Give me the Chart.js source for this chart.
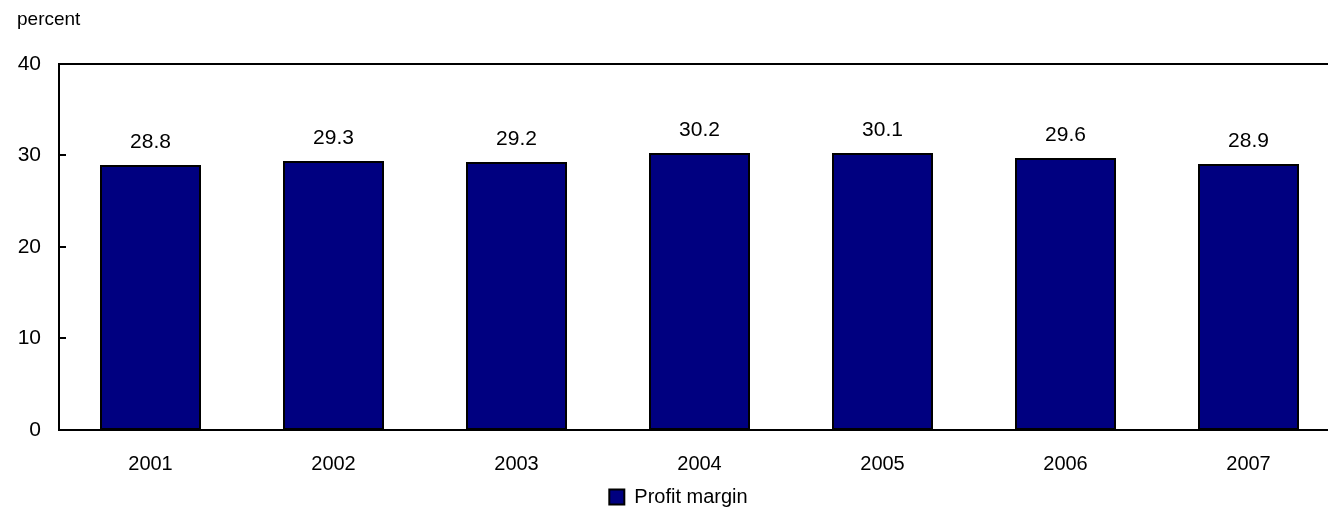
<!DOCTYPE html>
<html>
<head>
<meta charset="utf-8">
<script src="https://cdn.jsdelivr.net/npm/chart.js@4.4.1/dist/chart.umd.min.js"></script>
<style>
  html, body { margin: 0; padding: 0; background: #fff; overflow: hidden; }
  #wrap { width: 1340px; height: 512px; }
</style>
</head>
<body>
<div id="wrap"><canvas id="profitChart" width="1340" height="512"></canvas></div>
<script>
// datos del grafico
const years = ['2001', '2002', '2003', '2004', '2005', '2006', '2007'];
const profitMargin = [28.8, 29.3, 29.2, 30.2, 30.1, 29.6, 28.9];
const yTicks = [0, 10, 20, 30, 40];

const FONT = 'Liberation Sans, Arial, sans-serif';

// contorno de barras, etiquetas encima y marcas hacia dentro en el eje y
const extras = {
    id: 'extras',
    afterDatasetsDraw(chart) {
        const ctx = chart.ctx;
        const meta = chart.getDatasetMeta(0);
        ctx.save();
        ctx.strokeStyle = '#000';
        ctx.lineWidth = 2;
        meta.data.forEach(bar => {
            const l = Math.round(bar.x - bar.width / 2);
            const r = Math.round(bar.x + bar.width / 2);
            const t = Math.round(bar.y);
            const b = Math.round(bar.base);
            ctx.strokeRect(l, t, r - l, b - t);
        });
        ctx.fillStyle = '#000';
        ctx.font = '21px ' + FONT;
        ctx.textAlign = 'center';
        ctx.textBaseline = 'alphabetic';
        meta.data.forEach((bar, i) => {
            ctx.fillText(profitMargin[i].toFixed(1), bar.x, bar.y - 18);
        });
        const y = chart.scales.y;
        const left = chart.chartArea.left;
        yTicks.forEach(v => {
            const py = Math.round(y.getPixelForValue(v));
            ctx.beginPath();
            ctx.moveTo(left, py);
            ctx.lineTo(left + 7, py);
            ctx.stroke();
        });
        ctx.restore();
    }
};

document.addEventListener('DOMContentLoaded', () => {
    new Chart(document.getElementById('profitChart'), {
        type: 'bar',
        data: {
            labels: years,
            datasets: [{
                label: 'Profit margin',
                data: profitMargin,
                backgroundColor: '#000080',
                borderWidth: 0,
                categoryPercentage: 1,
                barPercentage: 0.545,
            }],
        },
        options: {
            responsive: false,
            animation: false,
            layout: {padding: {left: 17, right: 0, top: 0, bottom: 0}},
            scales: {
                x: {
                    afterFit: (scale) => { scale.height = 57; },
                    grid: {display: false, drawTicks: false},
                    border: {display: true, color: '#000', width: 2},
                    ticks: {color: '#000', font: {family: FONT, size: 20}, padding: 22, maxRotation: 0},
                },
                y: {
                    min: 0,
                    max: 40,
                    afterFit: (scale) => { scale.width = 42; },
                    afterBuildTicks: (scale) => { scale.ticks = yTicks.map(v => ({value: v})); },
                    grid: {
                        drawTicks: false,
                        lineWidth: 2,
                        color: (c) => (c.tick && c.tick.value === 40 ? '#000' : 'rgba(0,0,0,0)'),
                    },
                    border: {display: true, color: '#000', width: 2},
                    ticks: {color: '#000', font: {family: FONT, size: 21}, padding: 18},
                },
            },
            plugins: {
                title: {
                    display: true,
                    text: 'percent',
                    align: 'start',
                    color: '#000',
                    font: {family: FONT, size: 19, weight: 'normal'},
                    padding: {top: 8, bottom: 33},
                },
                legend: {
                    position: 'bottom',
                    maxHeight: 25,
                    labels: {
                        color: '#000',
                        font: {family: FONT, size: 20},
                        boxWidth: 15,
                        boxHeight: 15,
                        padding: 0,
                        generateLabels: (chart) => Chart.defaults.plugins.legend.labels.generateLabels(chart)
                            .map(item => ({...item, strokeStyle: '#000', lineWidth: 2})),
                    },
                },
                tooltip: {enabled: false},
            },
        },
        plugins: [extras],
    });
});
</script>
</body>
</html>
